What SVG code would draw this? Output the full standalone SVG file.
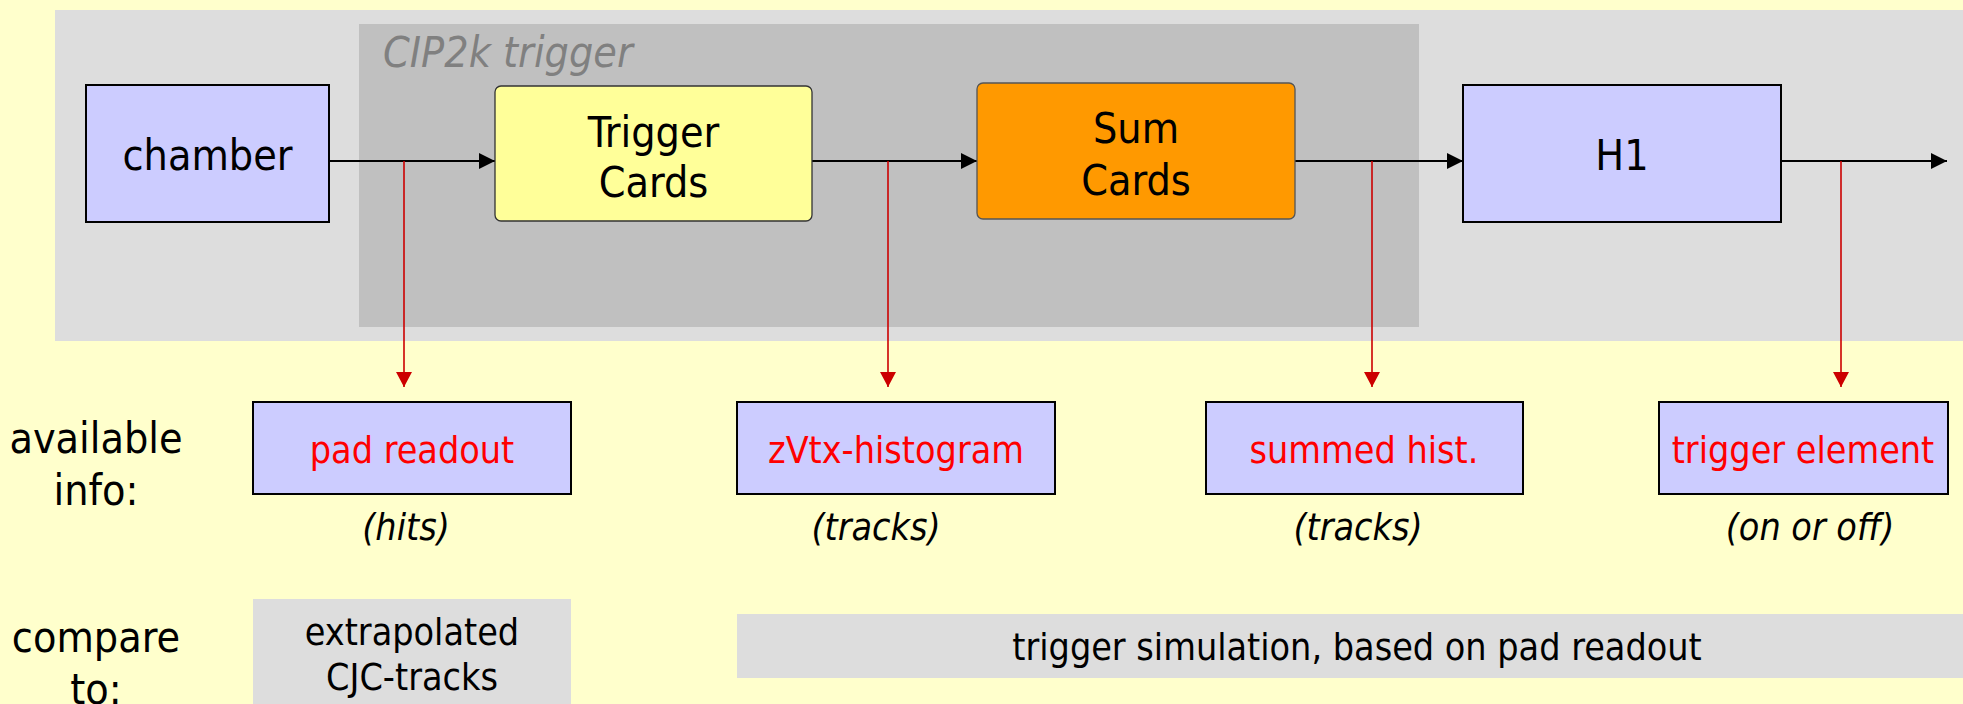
<svg xmlns="http://www.w3.org/2000/svg" width="1963" height="704" viewBox="0 0 1963 704">
<style>
text{font-family:"DejaVu Sans Condensed","DejaVu Sans",sans-serif;font-stretch:condensed;text-anchor:middle}
.big{font-size:42.67px;fill:#000}
.med{font-size:37.33px;fill:#000}
.red{font-size:37.33px;fill:#FF0000}
.it{font-size:37.33px;font-style:italic;fill:#000}
.blue{fill:#CCCCFF;stroke:#000;stroke-width:2}
.info{fill:#CCCCFF;stroke:#000;stroke-width:2}
.flow{stroke:#000;stroke-width:2;fill:none}
.tap{stroke:#CC0000;stroke-width:1.6;fill:none}
</style>
<defs>
<marker id="ab" markerUnits="userSpaceOnUse" markerWidth="17" markerHeight="16" refX="16" refY="8" orient="auto"><path d="M0,0 L16,8 L0,16 Z" fill="#000"/></marker>
<marker id="ar" markerUnits="userSpaceOnUse" markerWidth="16" markerHeight="16" refX="8" refY="15" orient="0"><path d="M0,0 L16,0 L8,15 Z" fill="#CC0000"/></marker>
</defs>
<rect x="0" y="0" width="1963" height="704" fill="#FFFFCC"/>
<g id="frame">
<rect x="55" y="10" width="1908" height="331" fill="#DDDDDD"/>
</g>
<g id="cip2k">
<rect x="359" y="24" width="1060" height="303" fill="#C0C0C0"/>
<text x="383" y="67" style="text-anchor:start;font-size:42.67px;font-style:italic;fill:#808080">CIP2k trigger</text>
</g>
<g id="connectors">
<line class="flow" x1="329" y1="161" x2="495" y2="161" marker-end="url(#ab)"/>
<line class="flow" x1="812" y1="161" x2="977" y2="161" marker-end="url(#ab)"/>
<line class="flow" x1="1295" y1="161" x2="1463" y2="161" marker-end="url(#ab)"/>
<line class="flow" x1="1781" y1="161" x2="1947" y2="161" marker-end="url(#ab)"/>
<line class="tap" x1="404" y1="161" x2="404" y2="387" marker-end="url(#ar)"/>
<line class="tap" x1="888" y1="161" x2="888" y2="387" marker-end="url(#ar)"/>
<line class="tap" x1="1372" y1="161" x2="1372" y2="387" marker-end="url(#ar)"/>
<line class="tap" x1="1841" y1="161" x2="1841" y2="387" marker-end="url(#ar)"/>
</g>
<g id="chamber">
<rect class="blue" x="86" y="85" width="243" height="137"/>
<text class="big" x="207.5" y="170">chamber</text>
</g>
<g id="trigger-cards">
<rect x="495" y="86" width="317" height="135" rx="6" fill="#FFFF99" stroke="#333" stroke-width="1.3"/>
<text class="big" x="653.5" y="147">Trigger</text>
<text class="big" x="653.5" y="197">Cards</text>
</g>
<g id="sum-cards">
<rect x="977" y="83" width="318" height="136" rx="6" fill="#FF9900" stroke="#555" stroke-width="1.3"/>
<text class="big" x="1136" y="143">Sum</text>
<text class="big" x="1136" y="195">Cards</text>
</g>
<g id="h1">
<rect class="blue" x="1463" y="85" width="318" height="137"/>
<text class="big" x="1622" y="170">H1</text>
</g>
<g id="label-available">
<text class="big" x="96" y="453">available</text>
<text class="big" x="96" y="505">info:</text>
</g>
<g id="label-compare">
<text class="big" x="96" y="652">compare</text>
<text class="big" x="96" y="704">to:</text>
</g>
<g id="pad-readout">
<rect class="info" x="253" y="402" width="318" height="92"/>
<text class="red" x="412" y="463">pad readout</text>
<text class="it" x="406" y="540">(hits)</text>
</g>
<g id="zvtx-histogram">
<rect class="info" x="737" y="402" width="318" height="92"/>
<text class="red" x="896" y="463">zVtx-histogram</text>
<text class="it" x="876" y="540">(tracks)</text>
</g>
<g id="summed-hist">
<rect class="info" x="1206" y="402" width="317" height="92"/>
<text class="red" x="1364" y="463">summed hist.</text>
<text class="it" x="1358" y="540">(tracks)</text>
</g>
<g id="trigger-element">
<rect class="info" x="1659" y="402" width="289" height="92"/>
<text class="red" x="1803" y="463">trigger element</text>
<text class="it" x="1810" y="540">(on or off)</text>
</g>
<g id="cjc-tracks">
<rect x="253" y="599" width="318" height="105" fill="#DDDDDD"/>
<text class="med" x="412" y="645">extrapolated</text>
<text class="med" x="412" y="690">CJC-tracks</text>
</g>
<g id="trigger-simulation">
<rect x="737" y="614" width="1226" height="64" fill="#DDDDDD"/>
<text class="med" x="1357" y="660">trigger simulation, based on pad readout</text>
</g>
</svg>
